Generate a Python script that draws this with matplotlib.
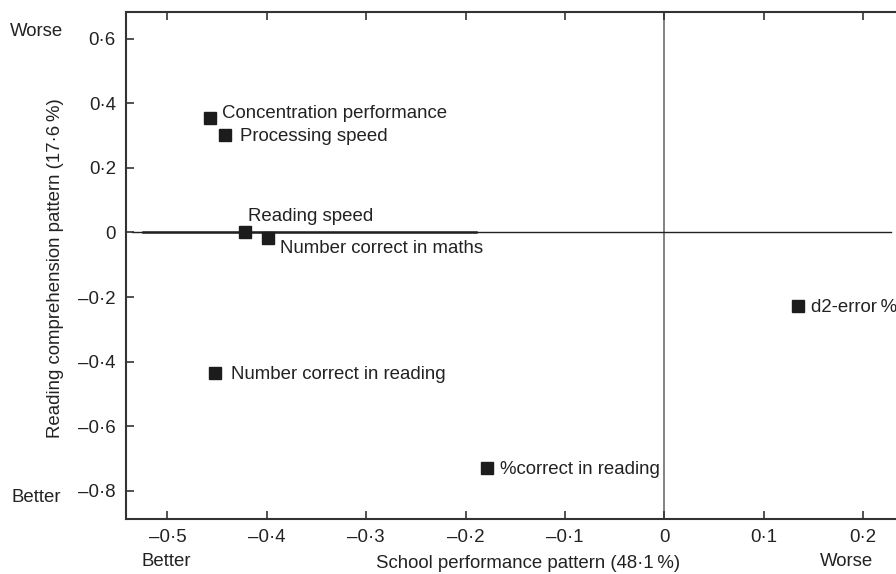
import matplotlib
matplotlib.use("Agg")
import matplotlib.pyplot as plt
from matplotlib.ticker import FixedLocator, FixedFormatter

# ---- data ----
names = ["Concentration performance", "Processing speed", "Reading speed",
         "Number correct in maths", "Number correct in reading",
         "%correct in reading", "d2-error\u2009%"]
school = [-0.457, -0.442, -0.422, -0.399, -0.452, -0.179, 0.134]
reading = [0.355, 0.302, 0.000, -0.017, -0.436, -0.729, -0.228]

xticks = [-0.5, -0.4, -0.3, -0.2, -0.1, 0.0, 0.1, 0.2]
xticklabels = ["\u20130\u00b75", "\u20130\u00b74", "\u20130\u00b73", "\u20130\u00b72",
               "\u20130\u00b71", "0", "0\u00b71", "0\u00b72"]
yticks = [-0.8, -0.6, -0.4, -0.2, 0.0, 0.2, 0.4, 0.6]
yticklabels = ["\u20130\u00b78", "\u20130\u00b76", "\u20130\u00b74", "\u20130\u00b72",
               "0", "0\u00b72", "0\u00b74", "0\u00b76"]

xlabel = "School performance pattern (48\u00b71\u2009%)"
ylabel = "Reading comprehension pattern (17\u00b76\u2009%)"

# label offsets (pixels, style only)
label_offsets = [(12, 0), (15, -6), (3, 11), (12, -15), (16, -6), (13, -6), (13, -6)]

plt.rcParams['font.family'] = ['Liberation Sans', 'DejaVu Sans']
TXT = '#222222'
FS = 13.4

fig = plt.figure(figsize=(8.96, 5.74), dpi=100)
ax = fig.add_axes([0.1403, 0.0958, 0.8597, 0.8838])
ax.set_xlim(-0.542, 0.233)
ax.set_ylim(-0.887, 0.683)

# reference lines
ax.axvline(0, color='#777777', lw=1.3, zorder=1)
ax.plot([-0.536, 0.228], [0, 0], color='#222222', lw=1.0, zorder=1)
ax.plot([-0.525, -0.19], [0, 0], color='#222222', lw=1.8, zorder=1)

ax.plot(school, reading, 's', ms=8.8, color='#1c1c1c', mec='#1c1c1c', zorder=3, ls='none')
for n, x, y, (dx, dy) in zip(names, school, reading, label_offsets):
    ax.annotate(n, (x, y), xytext=(dx, dy), textcoords='offset pixels',
                ha='left', va='baseline', fontsize=FS, color=TXT)

for s in ['left', 'top', 'bottom']:
    ax.spines[s].set_color('#333333')
    ax.spines[s].set_linewidth(1.5)
ax.spines['right'].set_visible(False)

ax.xaxis.set_major_locator(FixedLocator(xticks))
ax.xaxis.set_major_formatter(FixedFormatter(xticklabels))
ax.yaxis.set_major_locator(FixedLocator(yticks))
ax.yaxis.set_major_formatter(FixedFormatter(yticklabels))
ax.tick_params(axis='x', direction='in', top=True, bottom=True, length=6, width=1.2,
               colors='#333333', labelcolor=TXT, labelsize=FS, pad=7)
ax.tick_params(axis='y', direction='in', left=True, right=False, length=6, width=1.2,
               colors='#333333', labelcolor=TXT, labelsize=FS, pad=7)

fig.text(0.589, 1 - 564 / 574, xlabel, ha='center', va='center', fontsize=FS, color=TXT)
fig.text(0.0614, 1 - 268 / 574, ylabel, ha='center', va='center', rotation=90,
         fontsize=FS, color=TXT)
fig.text(0.0413, 1 - 31 / 574, "Worse", ha='center', va='center', fontsize=FS, color=TXT)
fig.text(0.040, 1 - 497 / 574, "Better", ha='center', va='center', fontsize=FS, color=TXT)
fig.text(0.185, 1 - 562 / 574, "Better", ha='center', va='center', fontsize=FS, color=TXT)
fig.text(0.945, 1 - 561 / 574, "Worse", ha='center', va='center', fontsize=FS, color=TXT)

fig.savefig("out.png", dpi=100)
